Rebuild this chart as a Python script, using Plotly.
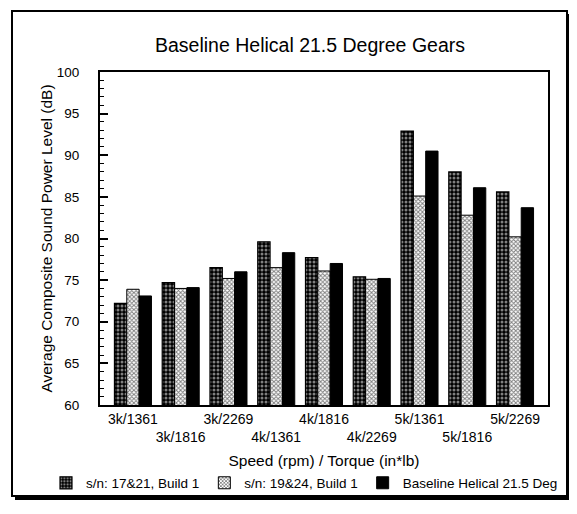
import plotly.graph_objects as go

categories = ["3k/1361", "3k/1816", "3k/2269", "4k/1361", "4k/1816",
              "4k/2269", "5k/1361", "5k/1816", "5k/2269"]
series_names = ["s/n: 17&21, Build 1", "s/n: 19&24, Build 1", "Baseline Helical 21.5 Deg"]
sn_17_21 = [72.2, 74.7, 76.5, 79.6, 77.7, 75.4, 92.9, 88.0, 85.6]
sn_19_24 = [73.9, 74.0, 75.2, 76.5, 76.1, 75.1, 85.1, 82.8, 80.2]
baseline = [73.1, 74.1, 76.0, 78.3, 77.0, 75.2, 90.5, 86.1, 83.7]
y_ticks = [60, 65, 70, 75, 80, 85, 90, 95, 100]

FONT = "Arial, 'Liberation Sans', sans-serif"

# page body has an 8px default margin: figure is drawn at window offset (8, 8)
OFF = 8
W, H = 577 - OFF, 514 - OFF

fig = go.Figure()
fig.add_trace(go.Bar(
    name=series_names[0], x=categories, y=sn_17_21,
    marker=dict(color="black", line=dict(color="black", width=1.2),
                pattern=dict(shape=".", fgcolor="white", bgcolor="black",
                             size=4, solidity=0.45, fillmode="overlay")),
))
fig.add_trace(go.Bar(
    name=series_names[1], x=categories, y=sn_19_24,
    marker=dict(color="white", line=dict(color="black", width=1),
                pattern=dict(shape="x", fgcolor="black", bgcolor="white",
                             size=3, solidity=0.55, fillmode="overlay")),
))
fig.add_trace(go.Bar(
    name=series_names[2], x=categories, y=baseline,
    marker=dict(color="black", line=dict(color="black", width=1)),
))

ticktext = [c if i % 2 == 0 else "<br>" + c for i, c in enumerate(categories)]

# plot area in window px: x 100..548, y 72..405
def px_x(p):
    return (p - 100) / 448.0

def px_y(p):
    return (405 - p) / 333.0

shapes = [
    dict(type="rect", xref="paper", yref="paper",
         x0=px_x(12), x1=px_x(567), y0=px_y(496), y1=px_y(11),
         line=dict(color="black", width=2), layer="below"),
    dict(type="line", xref="paper", yref="paper",
         x0=px_x(569.5), x1=px_x(569.5), y0=px_y(499), y1=px_y(14),
         line=dict(color="black", width=3)),
    dict(type="line", xref="paper", yref="paper",
         x0=px_x(15), x1=px_x(571), y0=px_y(498.5), y1=px_y(498.5),
         line=dict(color="black", width=3)),
]

fig.update_layout(
    width=W, height=H,
    margin=dict(l=100 - OFF, r=577 - 548, t=72 - OFF, b=514 - 405, autoexpand=False),
    paper_bgcolor="white", plot_bgcolor="white",
    font=dict(family=FONT, color="black", size=14),
    barmode="group", bargap=0.225, bargroupgap=0,
    title=dict(text="Baseline Helical 21.5 Degree Gears", x=(310 - OFF) / W, xanchor="center",
               y=1 - (45 - OFF) / H, yanchor="middle", font=dict(size=19.5, family=FONT)),
    showlegend=True,
    legend=dict(orientation="h", x=px_x(46), xanchor="left", y=px_y(483), yanchor="middle",
                font=dict(size=13.5, family=FONT), traceorder="normal",
                itemwidth=30, tracegroupgap=0, bgcolor="rgba(0,0,0,0)"),
    shapes=shapes,
)

fig.update_xaxes(
    range=[-0.69, 8.69], tickmode="array", tickvals=categories, ticktext=ticktext,
    tickangle=0, ticks="", showline=True, linecolor="black", linewidth=2, mirror=True,
    showgrid=False, tickfont=dict(size=14, family=FONT),
    title=dict(text="Speed (rpm) / Torque (in*lb)", font=dict(size=15.5, family=FONT), standoff=11),
    automargin=False,
)
fig.update_yaxes(
    range=[60, 100], tickmode="array", tickvals=y_ticks,
    ticks="inside", ticklen=8, tickwidth=1.5, tickcolor="black",
    minor=dict(ticks="inside", ticklen=4, dtick=1, tickcolor="black", tickwidth=1, showgrid=False),
    showline=True, linecolor="black", linewidth=2, mirror=True,
    showgrid=False, zeroline=False, tickfont=dict(size=13.5, family=FONT),
    ticklabelstandoff=16,
    title=dict(text="Average Composite Sound Power Level (dB)", font=dict(size=15.5, family=FONT), standoff=0),
    automargin=False,
)

fig.write_html("out.html")
